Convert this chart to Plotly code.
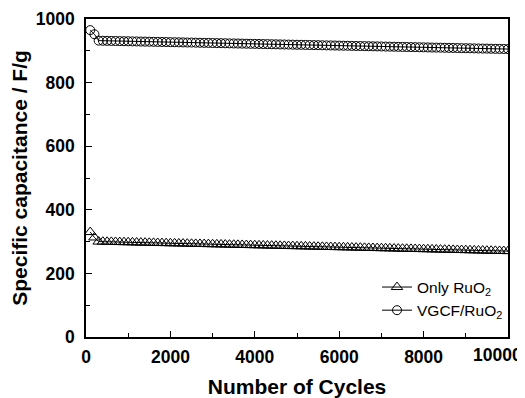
import plotly.graph_objects as go

cycles = list(range(100, 10001, 100))

vgcf_ruo2 = [965, 952,
    932, 931.6, 931.3, 931, 930.8, 930.5, 930.2, 930, 929.7, 929.4,
    929.1, 928.9, 928.6, 928.3, 928, 927.8, 927.5, 927.2, 927, 926.7,
    926.4, 926.1, 925.9, 925.6, 925.3, 925, 924.8, 924.5, 924.2, 924,
    923.7, 923.4, 923.1, 922.9, 922.6, 922.3, 922, 921.8, 921.5, 921.2,
    921, 920.7, 920.4, 920.1, 919.9, 919.6, 919.3, 919, 918.8, 918.5,
    918.2, 918, 917.7, 917.4, 917.1, 916.9, 916.6, 916.3, 916, 915.8,
    915.5, 915.2, 915, 914.7, 914.4, 914.1, 913.9, 913.6, 913.3, 913,
    912.8, 912.5, 912.2, 912, 911.7, 911.4, 911.1, 910.9, 910.6, 910.3,
    910, 909.8, 909.5, 909.2, 909, 908.7, 908.4, 908.1, 907.9, 907.6,
    907.3, 907, 906.8, 906.5, 906.2, 906, 905.8, 905.5]

only_ruo2 = [330, 313,
    300, 299.7, 299.4, 299.1, 298.8, 298.5, 298.2, 297.9, 297.6, 297.2,
    296.9, 296.6, 296.3, 296, 295.7, 295.4, 295.1, 294.8, 294.5, 294.2,
    293.8, 293.5, 293.2, 292.9, 292.6, 292.3, 292, 291.7, 291.4, 291.1,
    290.7, 290.4, 290.1, 289.8, 289.5, 289.2, 288.9, 288.6, 288.3, 288,
    287.6, 287.3, 287, 286.7, 286.4, 286.1, 285.8, 285.5, 285.2, 284.9,
    284.5, 284.2, 283.9, 283.6, 283.3, 283, 282.7, 282.4, 282.1, 281.8,
    281.4, 281.1, 280.8, 280.5, 280.2, 279.9, 279.6, 279.3, 279, 278.7,
    278.3, 278, 277.7, 277.4, 277.1, 276.8, 276.5, 276.2, 275.9, 275.6,
    275.2, 274.9, 274.6, 274.3, 274, 273.7, 273.4, 273.1, 272.8, 272.5,
    272.1, 271.8, 271.5, 271.2, 270.9, 270.6, 270.3, 270]

x_tickvals = [0, 2000, 4000, 6000, 8000, 10000]
x_ticktext = ["0", "2000", "4000", "6000", "8000", ""]
x_last_label = "10000"
y_tickvals = [0, 200, 400, 600, 800, 1000]
y_ticktext = ["0", "200", "400", "600", "800", "1000"]

FONT = "Liberation Sans"
TICKFONT = dict(family=FONT, size=17.5, color="black", weight="bold")

fig = go.Figure()
fig.add_trace(go.Scatter(
    x=cycles, y=only_ruo2, mode="lines+markers", name="Only RuO<sub>2</sub>",
    line=dict(color="black", width=1),
    marker=dict(symbol="triangle-up-open", size=10, color="black", line=dict(width=1, color="black")),
))
fig.add_trace(go.Scatter(
    x=cycles, y=vgcf_ruo2, mode="lines+markers", name="VGCF/RuO<sub>2</sub>",
    line=dict(color="black", width=1),
    marker=dict(symbol="circle-open", size=9, color="black", line=dict(width=1, color="black")),
))

axis_common = dict(
    showline=True, linecolor="black", linewidth=1.5, mirror=True,
    ticks="inside", ticklen=6, tickwidth=1, tickcolor="black",
    showgrid=False, zeroline=False, automargin=False,
    ticklabeloverflow="allow",
    tickfont=TICKFONT,
)

fig.update_xaxes(
    range=[0, 10000], tickmode="array", tickvals=x_tickvals, ticktext=x_ticktext,
    minor=dict(ticks="inside", ticklen=4, tickcolor="black", dtick=1000, showgrid=False),
    ticklabelstandoff=3,
    title=dict(text="Number of Cycles", font=dict(family=FONT, size=21, color="black", weight="bold"), standoff=16),
    **axis_common,
)
fig.update_yaxes(
    range=[0, 1000], tickmode="array", tickvals=y_tickvals, ticktext=y_ticktext,
    minor=dict(ticks="inside", ticklen=4, tickcolor="black", dtick=100, showgrid=False),
    ticklabelstandoff=6,
    title=dict(text="Specific capacitance / F/g", font=dict(family=FONT, size=21, color="black", weight="bold"), standoff=8),
    **axis_common,
)

# last x tick label, nudged left as in the original so it stays inside the frame
fig.add_annotation(
    x=x_tickvals[-1], xref="x", y=0, yref="paper", text=x_last_label,
    showarrow=False, xanchor="center", yanchor="top", xshift=-11, yshift=-6,
    font=TICKFONT,
)

fig.update_layout(
    width=517, height=390,
    margin=dict(l=78, r=17, t=11, b=61),
    paper_bgcolor="white", plot_bgcolor="white",
    showlegend=True,
    legend=dict(x=1.0, y=0.03, xanchor="right", yanchor="bottom",
                bgcolor="rgba(0,0,0,0)", font=dict(family=FONT, size=15.5, color="black"),
                tracegroupgap=0, itemwidth=30),
)

fig.write_html("out.html")
